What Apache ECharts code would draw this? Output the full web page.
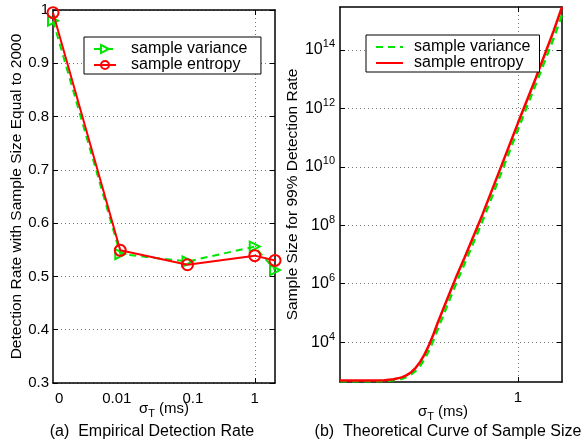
<!DOCTYPE html>
<html>
<head>
<meta charset="utf-8">
<script src="https://cdn.jsdelivr.net/npm/echarts@6/dist/echarts.min.js"></script>
<style>
html,body{margin:0;padding:0;background:#fff;}
#chart{width:586px;height:443px;}
</style>
</head>
<body>
<div id="chart"></div>
<script>
// ---------- data: (a) empirical detection rate ----------
// sigma_T values in ms; "0" is drawn at 0.001 on the log axis
const sigmaA = [0.001, 0.01, 0.1, 1, 2];
const varianceA = [0.980, 0.542, 0.528, 0.556, 0.512];
const entropyA  = [0.995, 0.549, 0.522, 0.539, 0.530];
const xTickValsA   = [0.00123, 0.0089, 0.12, 1];
const xTickLabelsA = ['0', '0.01', '0.1', '1'];

// ---------- data: (b) theoretical curve of sample size ----------
const sigmaB = [0, 0.1, 0.2, 0.25, 0.3, 0.325, 0.35, 0.375, 0.4, 0.425, 0.45, 0.475, 0.5, 0.525, 0.55, 0.6, 0.65, 0.7, 0.8, 0.9, 1.0, 1.1, 1.2, 1.247];
const entropyB  = [485, 486, 487, 495, 537, 575, 631, 741, 933, 1320, 2090, 3800, 7940, 18600, 47900, 2.75e5, 1.55e6, 7.9e6, 2.3e8, 8.5e9, 3.2e11, 1.1e13, 4.5e14, 2.95e15];
const varianceB = [457, 457, 459, 466, 495, 525, 569, 646, 794, 1050, 1550, 2630, 5250, 11700, 28800, 1.66e5, 9.5e5, 4.9e6, 1.38e8, 5.1e9, 1.95e11, 6.8e12, 2.5e14, 1.6e15];
const yTickValsB = [1e4, 1e6, 1e8, 1e10, 1e12, 1e14];
const xTickValsB = [1];

const seriesNames = ['sample variance', 'sample entropy'];
const captions = ['(a)  Empirical Detection Rate', '(b)  Theoretical Curve of Sample Size'];

const FONT = 'Liberation Sans, Arial, Helvetica, sans-serif';
const GREEN = '#00e600';
const RED = '#ff0000';
const zip = (xs, ys) => xs.map((x, i) => [x, ys[i]]);

const grid = [
  {left: 53, top: 10, width: 222, height: 373},
  {left: 340, top: 7, width: 222, height: 375}
];
const axisLine = {show: true, onZero: false, lineStyle: {color: '#000', width: 1.5}};
const split = {show: true, lineStyle: {color: '#777', width: 1, type: [1, 3]}};
const lbl = {color: '#000', fontFamily: FONT, fontSize: 15};
const sigmaName = '{n|σ}{t|T}{n| (ms)}';
const sigmaRich = {n: {fontSize: 15, fontFamily: FONT, color: '#000'}, t: {fontSize: 11, fontFamily: FONT, color: '#000', padding: [9, 0, 0, 0]}};

const chart = echarts.init(document.getElementById('chart'), null, {renderer: 'canvas'});
chart.setOption({
  backgroundColor: '#fff',
  animation: false,
  grid: grid,
  xAxis: [
    {
      gridIndex: 0, type: 'log', logBase: 10, min: 0.001, max: 2, position: 'bottom',
      axisLine: axisLine,
      axisTick: {show: true, inside: true, length: 5, customValues: [1], lineStyle: {color: '#000'}},
      axisLabel: Object.assign({}, lbl, {margin: 8, customValues: xTickValsA, formatter: (v) => {
        let best = 0;
        xTickValsA.forEach((t, i) => { if (Math.abs(Math.log10(t) - Math.log10(v)) < Math.abs(Math.log10(xTickValsA[best]) - Math.log10(v))) best = i; });
        return xTickLabelsA[best];
      }}),
      splitLine: split,
      name: sigmaName, nameLocation: 'middle', nameGap: 16, nameMoveOverlap: false,
      nameTextStyle: {rich: sigmaRich}
    },
    {
      gridIndex: 0, type: 'log', logBase: 10, min: 0.001, max: 2, position: 'top',
      axisLine: axisLine, axisTick: {show: true, inside: true, length: 5, customValues: [1], lineStyle: {color: '#000'}},
      axisLabel: {show: false}, splitLine: {show: false}
    },
    {
      gridIndex: 1, type: 'value', min: 0, max: 1.247, position: 'bottom',
      axisLine: axisLine,
      axisTick: {show: true, inside: true, length: 5, customValues: xTickValsB, lineStyle: {color: '#000'}},
      axisLabel: Object.assign({}, lbl, {margin: 8, customValues: xTickValsB}),
      splitLine: split,
      name: sigmaName, nameLocation: 'middle', nameGap: 20, nameMoveOverlap: false,
      nameTextStyle: {rich: sigmaRich, padding: [0, 16, 0, 0]}
    },
    {
      gridIndex: 1, type: 'value', min: 0, max: 1.247, position: 'top',
      axisLine: axisLine, axisTick: {show: true, inside: true, length: 5, customValues: xTickValsB, lineStyle: {color: '#000'}},
      axisLabel: {show: false}, splitLine: {show: false}
    }
  ],
  yAxis: [
    {
      gridIndex: 0, type: 'value', min: 0.3, max: 1, interval: 0.1, position: 'left',
      axisLine: axisLine,
      axisTick: {show: true, inside: true, length: 5, lineStyle: {color: '#000'}},
      axisLabel: Object.assign({}, lbl, {margin: 4, formatter: (v) => String(Math.round(v * 10) / 10)}),
      splitLine: split,
      name: 'Detection Rate with Sample Size Equal to 2000', nameLocation: 'middle', nameGap: 28,
      nameTextStyle: {color: '#000', fontFamily: FONT, fontSize: 15.5}
    },
    {
      gridIndex: 0, type: 'value', min: 0.3, max: 1, interval: 0.1, position: 'right',
      axisLine: axisLine,
      axisTick: {show: true, inside: true, length: 5, lineStyle: {color: '#000'}},
      axisLabel: {show: false}, splitLine: {show: false}
    },
    {
      gridIndex: 1, type: 'log', logBase: 10, min: 431, max: 2.95e15, position: 'left',
      axisLine: axisLine,
      axisTick: {show: true, inside: true, length: 5, customValues: yTickValsB, lineStyle: {color: '#000'}},
      axisLabel: {
        margin: 5, customValues: yTickValsB,
        formatter: (v) => '{b|10}{s|' + Math.round(Math.log10(v)) + '}',
        rich: {
          b: {fontSize: 16, fontFamily: FONT, color: '#000'},
          s: {fontSize: 11, fontFamily: FONT, color: '#000', padding: [0, 0, 11, 0]}
        }
      },
      splitLine: split,
      name: 'Sample Size for 99% Detection Rate', nameLocation: 'middle', nameGap: 32,
      nameTextStyle: {color: '#000', fontFamily: FONT, fontSize: 15.5}
    },
    {
      gridIndex: 1, type: 'log', logBase: 10, min: 431, max: 2.95e15, position: 'right',
      axisLine: axisLine,
      axisTick: {show: true, inside: true, length: 5, customValues: yTickValsB, lineStyle: {color: '#000'}},
      axisLabel: {show: false}, splitLine: {show: false}
    }
  ],
  legend: [
    {
      left: 84, top: 37, orient: 'vertical', data: seriesNames.map(n => n + ' '),
      backgroundColor: '#fff', borderColor: '#000', borderWidth: 1,
      padding: [4, 9, 1, 9], itemGap: 0, itemWidth: 22, itemHeight: 10,
      textStyle: {color: '#000', fontFamily: FONT, fontSize: 16, lineHeight: 16, padding: [0, 0, 0, 10]}
    },
    {
      left: 366, top: 35, orient: 'vertical', data: seriesNames,
      backgroundColor: '#fff', borderColor: '#000', borderWidth: 1,
      padding: [4, 9, 1, 9], itemGap: 0, itemWidth: 27, itemHeight: 10,
      itemStyle: {color: 'rgba(0,0,0,0)', borderWidth: 0, opacity: 0},
      textStyle: {color: '#000', fontFamily: FONT, fontSize: 16, lineHeight: 16, padding: [0, 0, 0, 6]}
    }
  ],
  graphic: [
    {type: 'text', style: {text: captions[0], x: 152, y: 432, align: 'center', verticalAlign: 'middle', font: '16px ' + FONT, fill: '#000'}},
    {type: 'text', style: {text: captions[1], x: 448, y: 432, align: 'center', verticalAlign: 'middle', font: '16px ' + FONT, fill: '#000'}}
  ],
  series: [
    {
      name: seriesNames[0] + ' ', type: 'line', xAxisIndex: 0, yAxisIndex: 0,
      data: zip(sigmaA, varianceA),
      symbol: 'path://M0,0L10,5L0,10Z', symbolSize: 10, symbolKeepAspect: true,
      itemStyle: {color: 'rgba(0,0,0,0)', borderColor: GREEN, borderWidth: 2},
      lineStyle: {color: GREEN, width: 2, type: [7, 5]},
      color: GREEN, z: 2
    },
    {
      name: seriesNames[1] + ' ', type: 'line', xAxisIndex: 0, yAxisIndex: 0,
      data: zip(sigmaA, entropyA),
      symbol: 'circle', symbolSize: 11,
      itemStyle: {color: 'rgba(0,0,0,0)', borderColor: RED, borderWidth: 2},
      lineStyle: {color: RED, width: 2},
      color: RED, z: 3
    },
    {
      name: seriesNames[0], type: 'line', xAxisIndex: 2, yAxisIndex: 2,
      data: zip(sigmaB, varianceB), smooth: false,
      symbol: 'none', showSymbol: false,
      itemStyle: {color: GREEN},
      lineStyle: {color: GREEN, width: 2.5, type: [7, 5]},
      color: GREEN, z: 2
    },
    {
      name: seriesNames[1], type: 'line', xAxisIndex: 2, yAxisIndex: 2,
      data: zip(sigmaB, entropyB), smooth: false,
      symbol: 'none', showSymbol: false,
      itemStyle: {color: RED},
      lineStyle: {color: RED, width: 2.5},
      color: RED, z: 3
    }
  ]
});
</script>
</body>
</html>
